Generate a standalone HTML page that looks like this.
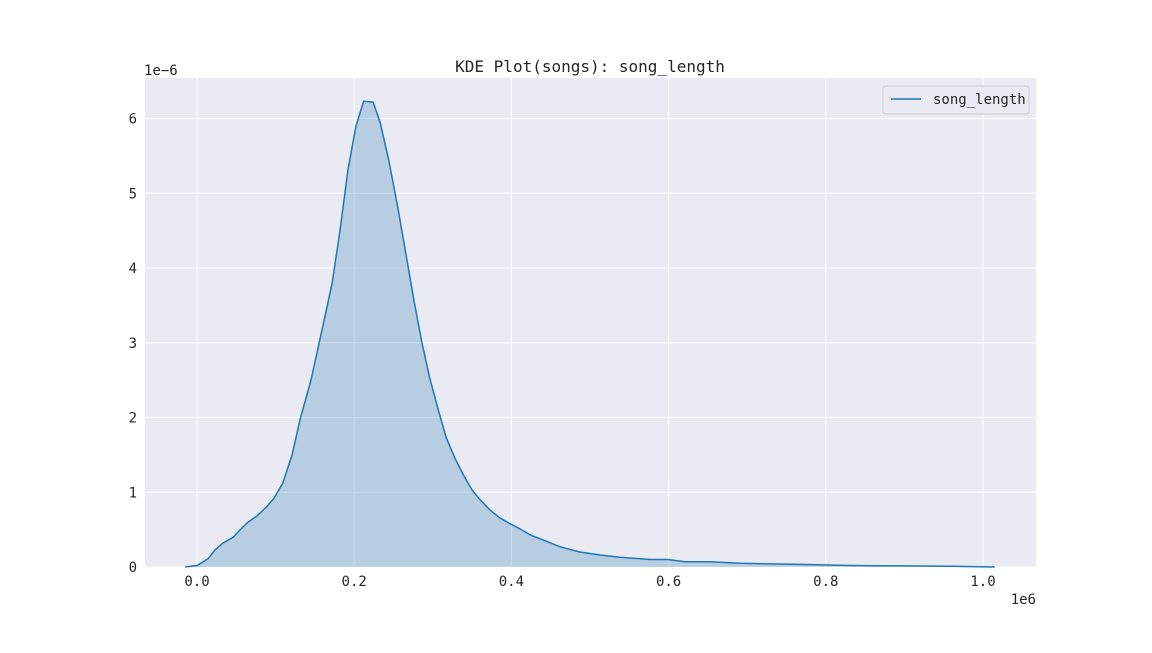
<!DOCTYPE html>
<html><head><meta charset="utf-8">
<style>
html,body{margin:0;padding:0;background:#fff;}
svg text{font-family:"DejaVu Sans Mono","Liberation Mono",monospace;fill:#262626;}
</style></head>
<body>
<svg id="chart" width="1152" height="648" viewBox="0 0 1152 648" xmlns="http://www.w3.org/2000/svg">
<rect x="145" y="78" width="891" height="489" fill="#eaeaf2"/>
<g id="grid"></g>
<g id="marks"></g>
<g id="ticks"></g>
<text x="590" y="72" text-anchor="middle" font-size="16">KDE Plot(songs): song_length</text>
<text x="144" y="75" font-size="14">1e−6</text>
<text x="1036" y="604" text-anchor="end" font-size="14">1e6</text>
<g>
<rect x="883" y="86" width="146" height="28" rx="3" fill="#eaeaf2" stroke="#cccccc"/>
<line x1="891" y1="99" x2="921" y2="99" stroke="#1f77b4" stroke-width="1.5"/>
<text x="933" y="104" font-size="14">song_length</text>
</g>
</svg>
<script>
const xs=[-0.015,0,0.014,0.023,0.033,0.046,0.055,0.065,0.076,0.088,0.098,0.109,0.121,0.131,0.145,0.160,0.172,0.182,0.192,0.202,0.212,0.224,0.233,0.244,0.256,0.266,0.276,0.286,0.296,0.307,0.317,0.328,0.339,0.350,0.360,0.373,0.385,0.398,0.411,0.424,0.443,0.462,0.487,0.513,0.538,0.564,0.576,0.599,0.621,0.653,0.691,0.767,0.831,0.894,0.958,1.015];
const ys=[0,0.02,0.11,0.23,0.32,0.40,0.50,0.60,0.68,0.80,0.92,1.12,1.50,1.97,2.50,3.22,3.80,4.51,5.31,5.89,6.23,6.22,5.95,5.44,4.78,4.17,3.57,3.01,2.53,2.10,1.73,1.46,1.23,1.03,0.90,0.76,0.66,0.58,0.51,0.43,0.35,0.27,0.20,0.16,0.13,0.11,0.10,0.10,0.07,0.07,0.05,0.035,0.02,0.015,0.01,0];
const xTicks=[0,0.2,0.4,0.6,0.8,1.0];
const xTickLabels=["0.0","0.2","0.4","0.6","0.8","1.0"];
const yTicks=[0,1,2,3,4,5,6];
const yTickLabels=["0","1","2","3","4","5","6"];
const NS="http://www.w3.org/2000/svg";
function sx(v){return 197+v*786;}
function sy(v){return 567-v*74.75;}
function mk(tag,attrs,parent){const e=document.createElementNS(NS,tag);for(const k in attrs)e.setAttribute(k,attrs[k]);parent.appendChild(e);return e;}
const grid=document.getElementById('grid'),ticks=document.getElementById('ticks'),marks=document.getElementById('marks');
xTicks.forEach((t,i)=>{
  const l=mk('line',{x1:sx(t),x2:sx(t),y1:78,y2:567,stroke:'#fff','stroke-width':1},grid);
  
  
  const tx=mk('text',{x:sx(t),y:586,'text-anchor':'middle','font-size':14},ticks);
  tx.textContent=xTickLabels[i];
  
  
});
yTicks.forEach((t,i)=>{
  const l=mk('line',{x1:145,x2:1036,y1:sy(t),y2:sy(t),stroke:'#fff','stroke-width':1},grid);
  
  
  const tx=mk('text',{x:137,y:sy(t)+5,'text-anchor':'end','font-size':14},ticks);
  tx.textContent=yTickLabels[i];
  
  
});
let d='';xs.forEach((x,i)=>{d+=(i?'L':'M')+sx(x).toFixed(1)+','+sy(ys[i]).toFixed(1);});
const area=mk('path',{d:d+'L'+sx(xs[xs.length-1])+','+sy(0)+'L'+sx(xs[0])+','+sy(0)+'Z',fill:'#1f77b4','fill-opacity':0.25},marks);


const line=mk('path',{d:d,fill:'none',stroke:'#1f77b4','stroke-width':1.5},marks);


</script>
</body></html>
